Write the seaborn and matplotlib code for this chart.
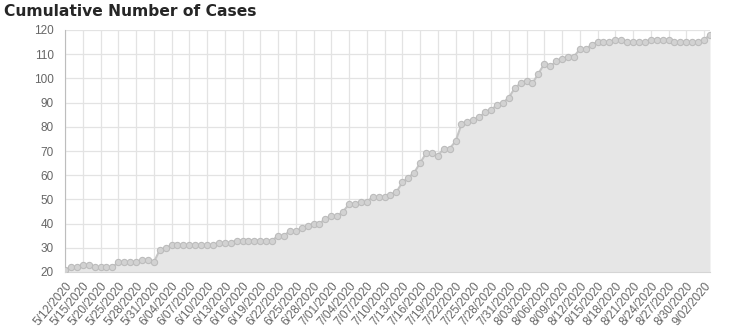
import matplotlib
matplotlib.use("Agg")
import matplotlib.pyplot as plt
import seaborn as sns
import pandas as pd
import numpy as np

# Cumulative case counts, one value per reporting day
cases = [
    21, 22, 22, 23, 23, 22, 22, 22, 22, 24, 24, 24, 24, 25, 25, 24, 29, 30, 31,
    31, 31, 31, 31, 31, 31, 31,
    32, 32, 32,
    33, 33, 33, 33, 33, 33, 33,
    35, 35, 37, 37, 38, 39, 40, 40, 42, 43, 43, 45, 48, 48, 49, 49, 51, 51, 51,
    52, 53, 57, 59, 61, 65, 69, 69, 68, 71, 71, 74, 81, 82, 83, 84, 86, 87,
    89, 90, 92, 96, 98, 99, 98, 102, 106, 105, 107, 108, 109, 109, 112,
    112, 114, 115, 115, 115, 116, 116, 115, 115, 115, 115, 116, 116, 116,
    116, 115, 115, 115, 115, 115, 116, 118,
]

# Axis labels shown on every third reporting day
date_labels = [
    "5/12/2020", "5/15/2020", "5/20/2020", "5/25/2020", "5/28/2020", "5/31/2020",
    "6/04/2020", "6/07/2020", "6/10/2020", "6/13/2020", "6/16/2020", "6/19/2020",
    "6/22/2020", "6/25/2020", "6/28/2020", "7/01/2020", "7/04/2020", "7/07/2020",
    "7/10/2020", "7/13/2020", "7/16/2020", "7/19/2020", "7/22/2020", "7/25/2020",
    "7/28/2020", "7/31/2020", "8/03/2020", "8/06/2020", "8/09/2020", "8/12/2020",
    "8/15/2020", "8/18/2020", "8/21/2020", "8/24/2020", "8/27/2020", "8/30/2020",
    "9/02/2020",
]
label_step = 3

y_ticks = [20, 30, 40, 50, 60, 70, 80, 90, 100, 110, 120]

df = pd.DataFrame({"day": np.arange(len(cases)), "cases": cases})

sns.set_style("white")
plt.rcParams["font.family"] = ["Liberation Sans", "DejaVu Sans"]

fig = plt.figure(figsize=(7.4, 3.3), dpi=100)
ax = fig.add_axes([65 / 740, 1 - 272 / 330, 645 / 740, 242 / 330])

grid_col = "#e3e3e3"
ax.fill_between(df["day"], df["cases"], 20, color="#e6e6e6", zorder=1, linewidth=0)
sns.lineplot(
    data=df, x="day", y="cases", ax=ax, color="#c4c4c4", linewidth=1.5,
    marker="o", markersize=4.5, markerfacecolor="#d2d2d2",
    markeredgecolor="#bcbcbc", markeredgewidth=0.8, zorder=3,
)

ax.set_xlim(0, len(cases) - 1)
ax.set_ylim(20, 120)
ax.set_yticks(y_ticks)
ax.set_yticklabels([str(v) for v in y_ticks])
ax.set_xticks(np.arange(len(date_labels)) * label_step)
ax.set_xticklabels(date_labels, rotation=50, ha="right", rotation_mode="anchor")

ax.grid(True, color=grid_col, linewidth=0.9, zorder=0)
ax.set_axisbelow(True)
ax.tick_params(axis="both", colors="#666666", labelsize=8.5, length=5,
               width=0.9, pad=3)
ax.tick_params(axis="both", color=grid_col)
ax.tick_params(axis="x", pad=1)
for s in ["top", "right"]:
    ax.spines[s].set_visible(False)
ax.spines["left"].set_color("#bdbdbd")
ax.spines["bottom"].set_color("#d5d5d5")
ax.set_xlabel("")
ax.set_ylabel("")

fig.text(4 / 740, 1 - 12 / 330, "Cumulative Number of Cases", fontsize=11.2,
         fontweight="bold", color="#262626", va="center", ha="left",
         family=["DejaVu Sans"])

fig.savefig("out.png", dpi=100)
